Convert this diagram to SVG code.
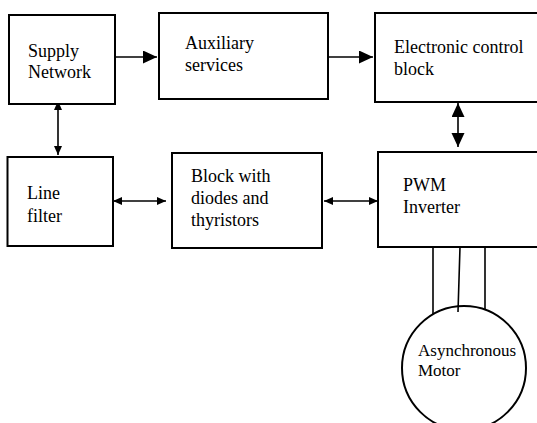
<svg xmlns="http://www.w3.org/2000/svg" width="537" height="423" viewBox="0 0 537 423">
<defs>
<style>
.box{fill:#fff;stroke:#000;stroke-width:2}
.lbl{font-family:'Liberation Serif',Tinos,'Times New Roman',Times,'DejaVu Serif',serif;font-size:18px;fill:#000}
.con{fill:none;stroke:#000;stroke-width:1.6}
</style>
<marker id="big" markerUnits="userSpaceOnUse" markerWidth="15" markerHeight="14" refX="14" refY="6.5" orient="auto-start-reverse"><path d="M0,0 L14,6.5 L0,13 z" fill="#000"/></marker>
<marker id="small" markerUnits="userSpaceOnUse" markerWidth="10" markerHeight="9" refX="9" refY="4" orient="auto-start-reverse"><path d="M0,0 L9,4 L0,8 z" fill="#000"/></marker>
</defs>
<rect width="537" height="423" fill="#fff"/>
<g id="connectors">
<path class="con" d="M115,57 L157,57" marker-end="url(#big)"/>
<path class="con" d="M328,57 L373,57" marker-end="url(#big)"/>
<path class="con" d="M458,103 L458,147" marker-start="url(#big)" marker-end="url(#big)"/>
<path class="con" d="M58,101 L58,155" marker-start="url(#small)" marker-end="url(#small)"/>
<path class="con" d="M113,201 L166,201" marker-start="url(#small)" marker-end="url(#small)"/>
<path class="con" d="M324,201 L378,201" marker-start="url(#small)" marker-end="url(#small)"/>
<path class="con" d="M433,247 L433,314 M460,247 L458,312 M485,247 L485,310"/>
</g>
<g id="supply">
<rect class="box" x="9" y="15" width="106" height="89"/>
<text class="lbl" x="28" y="56.5" font-family="Liberation Serif, serif">Supply</text>
<text class="lbl" x="28" y="78">Network</text>
</g>
<g id="aux">
<rect class="box" x="159" y="13" width="169" height="86"/>
<text class="lbl" x="185" y="49">Auxiliary</text>
<text class="lbl" x="185" y="71">services</text>
</g>
<g id="ecb">
<rect class="box" x="375" y="13" width="170" height="89"/>
<text class="lbl" x="394" y="52.5">Electronic control</text>
<text class="lbl" x="394" y="74.5">block</text>
</g>
<g id="linefilter">
<rect class="box" x="7.5" y="157" width="105.5" height="89"/>
<text class="lbl" x="27" y="199">Line</text>
<text class="lbl" x="27" y="222">filter</text>
</g>
<g id="block">
<rect class="box" x="172" y="153" width="150" height="95"/>
<text class="lbl" x="191" y="181.5">Block with</text>
<text class="lbl" x="191" y="203.5">diodes and</text>
<text class="lbl" x="191" y="225.5">thyristors</text>
</g>
<g id="pwm">
<rect class="box" x="378" y="152" width="170" height="95"/>
<text class="lbl" x="403" y="191">PWM</text>
<text class="lbl" x="403" y="213">Inverter</text>
</g>
<g id="motor">
<circle cx="464" cy="368" r="62" fill="none" stroke="#000" stroke-width="2"/>
<text class="lbl" x="418" y="355.5" style="font-size:17px">Asynchronous</text>
<text class="lbl" x="418" y="376" style="font-size:17px">Motor</text>
</g>
</svg>
